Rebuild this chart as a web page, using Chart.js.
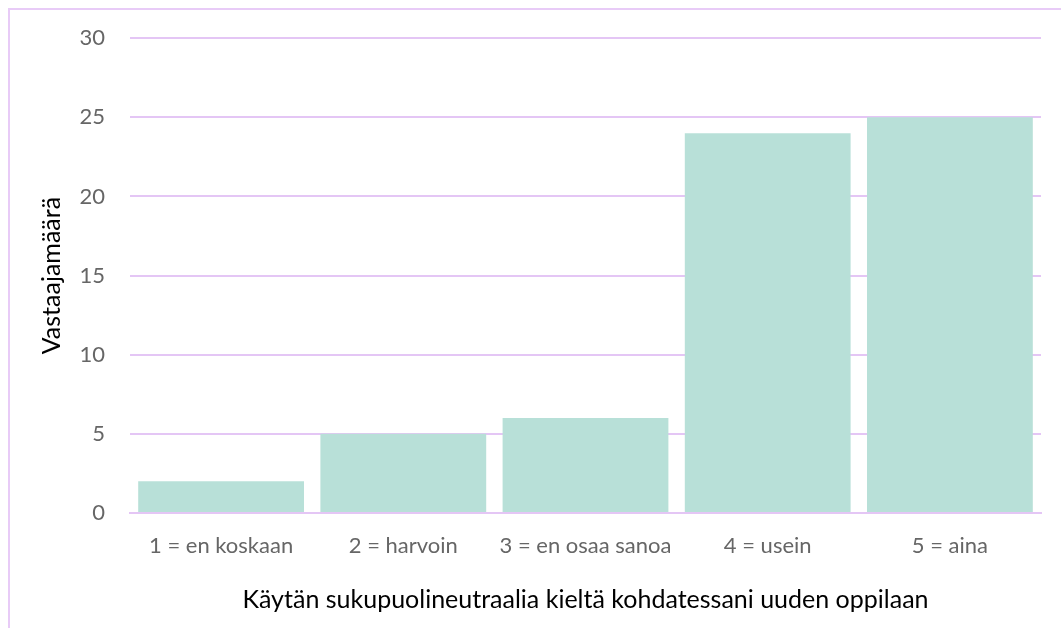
<!DOCTYPE html>
<html>
<head>
<meta charset="utf-8">
<script src="https://cdn.jsdelivr.net/npm/chart.js@4"></script>
<style>
  html, body { margin: 0; padding: 0; background: #fff; overflow: hidden; }
  #frame { position: absolute; left: 8px; top: 8px; width: 1200px; height: 800px; border: 2px solid #E8CBF7; box-sizing: border-box; }
  #wrap { position: absolute; left: 0; top: 0; width: 1061px; height: 628px; }
</style>
</head>
<body>
<div id="frame"></div>
<div id="wrap"><canvas id="barChart" width="1061" height="628"></canvas></div>
<script>
const categories = ["1 = en koskaan", "2 = harvoin", "3 = en osaa sanoa", "4 = usein", "5 = aina"];
const counts = [2, 5, 6, 24, 25];
const yTicks = [0, 5, 10, 15, 20, 25, 30];

const xTitle = "Käytän sukupuolineutraalia kieltä kohdatessani uuden oppilaan";
const yTitle = "Vastaajamäärä";

const gridColor = "#E4C6F5";
const tickFont = { family: "Lato", size: 22 };
const titleFont = { family: "Lato", size: 25 };

const ctx = document.getElementById("barChart").getContext("2d");

const chart = new Chart(ctx, {
    type: "bar",
    data: {
        labels: categories,
        datasets: [{
            label: yTitle,
            data: counts,
            backgroundColor: "#B8E0D8",
            barPercentage: 0.91,
            categoryPercentage: 1.0
        }]
    },
    options: {
        responsive: false,
        animation: false,
        layout: { padding: { top: 38, right: 20, bottom: 0, left: 0 } },
        plugins: {
            legend: { display: false },
            tooltip: { enabled: false }
        },
        scales: {
            x: {
                grid: { display: false, drawTicks: false },
                border: { color: gridColor, width: 2 },
                ticks: { color: "#666666", font: tickFont, padding: 20, maxRotation: 0 },
                title: {
                    display: true,
                    text: xTitle,
                    color: "#000000",
                    font: titleFont,
                    padding: { top: 20, bottom: 13 }
                },
                afterFit: function(scale) { scale.height = 115; }
            },
            y: {
                min: 0,
                max: 30,
                afterBuildTicks: function(scale) {
                    scale.ticks = yTicks.map(function(v) { return { value: v }; });
                },
                grid: { color: gridColor, lineWidth: 2, drawTicks: false },
                border: { display: false },
                ticks: { color: "#666666", font: tickFont, padding: 25 },
                title: {
                    display: true,
                    text: yTitle,
                    color: "#000000",
                    font: titleFont,
                    padding: { top: 37 }
                },
                afterFit: function(scale) { scale.width = 130; }
            }
        }
    }
});
</script>
</body>
</html>
